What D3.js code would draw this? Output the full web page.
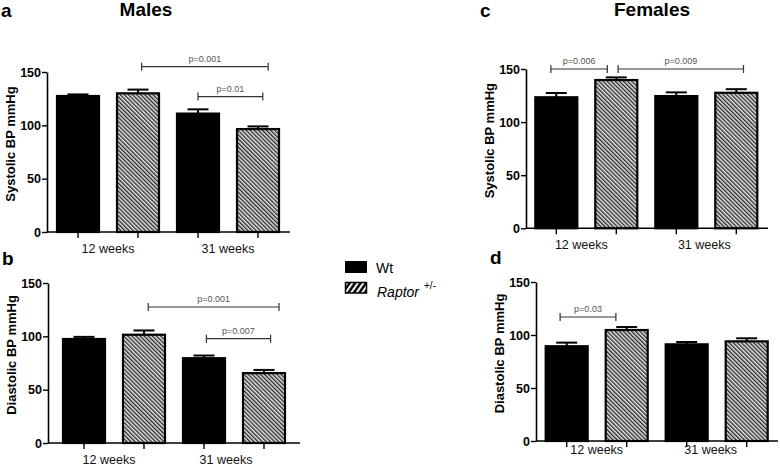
<!DOCTYPE html>
<html><head><meta charset="utf-8">
<script src="https://cdn.jsdelivr.net/npm/d3@7"></script>
<style>
body{margin:0;background:#fff;}
svg{display:block;font-family:"Liberation Sans",Arial,sans-serif;}
</style></head>
<body><svg id="chart" width="780" height="467"></svg>
<script>
// ---- data ----
const bars = ["Wt 12", "Raptor 12", "Wt 31", "Raptor 31"];
const groups = ["12 weeks", "31 weeks"];
const genotypes = ["Wt", "Raptor", "Wt", "Raptor"];
const yTicks = [0, 50, 100, 150];

const maleSystolic = [127.5, 130, 111, 96.5];
const maleSystolicErr = [1.5, 3.5, 4, 2.5];
const maleDiastolic = [97.5, 101.5, 79.5, 65.5];
const maleDiastolicErr = [2, 4, 2.5, 3];
const femaleSystolic = [123.4, 139.6, 124.5, 127.6];
const femaleSystolicErr = [4, 2.5, 3.5, 3.4];
const femaleDiastolic = [89.4, 104.7, 91.2, 94];
const femaleDiastolicErr = [3.4, 2.8, 2.2, 2.9];

// significance brackets: [from position, to position, y value, label]
const sigA = [[1.06, 3.17, 155, "p=0.001"], [2.0, 3.08, 127, "p=0.01"]];
const sigB = [[1.07, 3.25, 127.5, "p=0.001"], [2.04, 3.11, 97.8, "p=0.007"]];
const sigC = [[-0.09, 0.85, 150, "p=0.006"], [1.03, 3.12, 150, "p=0.009"]];
const sigD = [[-0.11, 0.82, 117, "p=0.03"]];

// ---- layout ----
const panels = [
  {letter:"a", title:"Males", titleX:146, yLabel:"Systolic BP mmHg", vals:maleSystolic, err:maleSystolicErr, sig:sigA,
   axL:47, axR:290, bandL:48, bandR:288, y0:232, y150:72, labelDy:21, labelDx:[0,0]},
  {letter:"b", title:null, yLabel:"Diastolic BP mmHg", vals:maleDiastolic, err:maleDiastolicErr, sig:sigB,
   axL:48, axR:300, bandL:54, bandR:294, y0:443, y150:283, labelDy:21, labelDx:[-5,-8]},
  {letter:"c", title:"Females", titleX:652, yLabel:"Systolic BP mmHg", vals:femaleSystolic, err:femaleSystolicErr, sig:sigC,
   axL:526, axR:768, bandL:526.3, bandR:766.3, y0:228.3, y150:69, labelDy:21, labelDx:[-5,-2]},
  {letter:"d", title:null, yLabel:"Diastolic BP mmHg", vals:femaleDiastolic, err:femaleDiastolicErr, sig:sigD,
   axL:536, axR:778, bandL:536.7, bandR:776.7, y0:441, y150:282, labelDy:13, labelDx:[0,-6]}
];

const svg = d3.select("#chart");
const defs = svg.append("defs");
const pat = defs.append("pattern").attr("id","hatch").attr("patternUnits","userSpaceOnUse")
  .attr("width",2.9).attr("height",2.9).attr("patternTransform","rotate(-45)");
pat.append("rect").attr("width",2.9).attr("height",2.9).attr("fill","#e4e4e4");
pat.append("rect").attr("x",0).attr("width",1.35).attr("height",2.9).attr("fill","#2a2a2a");
const pat2 = defs.append("pattern").attr("id","hatchLeg").attr("patternUnits","userSpaceOnUse")
  .attr("width",4.5).attr("height",4.5).attr("patternTransform","rotate(35)");
pat2.append("rect").attr("width",4.5).attr("height",4.5).attr("fill","#000");
pat2.append("rect").attr("x",0).attr("width",2).attr("height",4.5).attr("fill","#fff");

const fill = g => g === "Wt" ? "#000" : "url(#hatch)";

panels.forEach(p => {
  const x = d3.scaleBand().domain(bars).range([p.bandL, p.bandR]).paddingInner(0.3).paddingOuter(0.15);
  const y = d3.scaleLinear().domain([0,150]).range([p.y0, p.y150]);
  const pos = d3.scaleLinear().domain([0,1]).range([x(bars[0]) + x.bandwidth()/2, x(bars[1]) + x.bandwidth()/2]);
  const g = svg.append("g");

  // bars
  g.selectAll("rect.bar").data(p.vals).join("rect").attr("class","bar")
    .attr("x",(d,i)=>x(bars[i])).attr("width",x.bandwidth())
    .attr("y",d=>y(d)).attr("height",d=>y(0)-y(d))
    .attr("fill",(d,i)=>fill(genotypes[i])).attr("stroke","#000").attr("stroke-width",2.2);

  // error bars (upper only)
  p.vals.forEach((v,i)=>{
    const cx = x(bars[i]) + x.bandwidth()/2;
    g.append("line").attr("x1",cx).attr("x2",cx).attr("y1",y(v)).attr("y2",y(v+p.err[i]))
      .attr("stroke","#000").attr("stroke-width",2);
    g.append("line").attr("x1",cx-10.5).attr("x2",cx+10.5).attr("y1",y(v+p.err[i])).attr("y2",y(v+p.err[i]))
      .attr("stroke","#000").attr("stroke-width",2);
  });

  // y axis
  const ya = g.append("g").attr("transform",`translate(${p.axL},0)`)
    .call(d3.axisLeft(y).tickValues(yTicks).tickSize(5).tickSizeOuter(0).tickPadding(1));
  ya.select(".domain").attr("stroke-width",1.6);
  ya.selectAll(".tick line").attr("stroke-width",1.4);
  ya.selectAll("text").attr("font-size",12.5).attr("font-weight","bold").attr("fill","#000")
    .attr("font-family","Liberation Sans, Arial, sans-serif");

  // x axis
  const xa = g.append("g").attr("transform",`translate(0,${p.y0})`)
    .call(d3.axisBottom(x).tickSize(6).tickSizeOuter(0).tickFormat(""));
  xa.select(".domain").remove();
  xa.selectAll(".tick line").attr("stroke-width",1.4);
  g.append("line").attr("x1",p.axL).attr("x2",p.axR).attr("y1",p.y0).attr("y2",p.y0)
    .attr("stroke","#000").attr("stroke-width",1.6);

  // group labels
  groups.forEach((gl,k)=>{
    const cx = (x(bars[2*k]) + x(bars[2*k+1]) + x.bandwidth())/2 + p.labelDx[k];
    g.append("text").attr("x",cx).attr("y",p.y0+p.labelDy).attr("text-anchor","middle")
      .attr("font-size",12.5).attr("fill","#111").text(gl);
  });

  // y title
  g.append("text").attr("transform",`translate(${p.axL-32},${(p.y0+p.y150)/2 - 8}) rotate(-90)`)
    .attr("text-anchor","middle").attr("font-size",13).attr("font-weight","bold").text(p.yLabel);

  // significance brackets
  p.sig.forEach(s=>{
    const x1 = pos(s[0]), x2 = pos(s[1]), yy = y(s[2]);
    g.append("line").attr("x1",x1).attr("x2",x2).attr("y1",yy).attr("y2",yy).attr("stroke","#333").attr("stroke-width",1.2);
    [x1,x2].forEach(xx=>g.append("line").attr("x1",xx).attr("x2",xx).attr("y1",yy-4).attr("y2",yy+4)
      .attr("stroke","#333").attr("stroke-width",1.2));
    g.append("text").attr("x",(x1+x2)/2).attr("y",yy-5).attr("text-anchor","middle")
      .attr("font-size",9).attr("fill","#555").text(s[3]);
  });

  // panel letter & title
  g.append("text").attr("x",p.axL-46).attr("y",p.title ? 17 : p.y150-18).attr("font-size",19).attr("font-weight","bold").text(p.letter);
  if (p.title) g.append("text").attr("x",p.titleX).attr("y",16).attr("text-anchor","middle")
    .attr("font-size",19).attr("font-weight","bold").text(p.title);
});

// legend
const leg = svg.append("g");
leg.append("rect").attr("x",345).attr("y",261).attr("width",22).attr("height",12).attr("fill","#000");
leg.append("text").attr("x",376).attr("y",272.5).attr("font-size",14).text("Wt");
leg.append("rect").attr("x",345.5).attr("y",282.5).attr("width",21).attr("height",10.5).attr("fill","url(#hatchLeg)")
  .attr("stroke","#000").attr("stroke-width",1.5);
const rt = leg.append("text").attr("x",377).attr("y",297).attr("font-size",14);
rt.append("tspan").attr("font-style","italic").text("Raptor");
rt.append("tspan").attr("dx",5).attr("dy",-8).attr("font-size",10).text("+/-");
</script></body></html>
